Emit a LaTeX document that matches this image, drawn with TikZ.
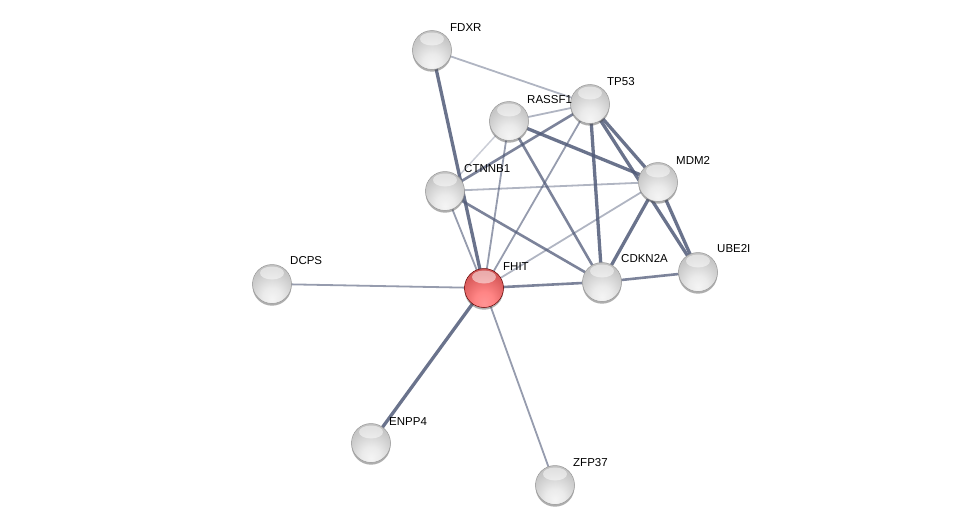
\documentclass[tikz,border=0pt]{standalone}
\usepackage{fontspec}
\setmainfont{Liberation Sans}
\usetikzlibrary{shadows}
\pgfdeclareradialshading{greyball}{\pgfpoint{0bp}{-20bp}}{color(0bp)=(white!96!black); color(12bp)=(black!8); color(30bp)=(black!22); color(44bp)=(black!28); color(54bp)=(black!34); color(62bp)=(black!44); color(70bp)=(black!50)}
\pgfdeclareradialshading{redball}{\pgfpoint{0bp}{-20bp}}{color(0bp)=(red!42!white); color(12bp)=(red!48!white); color(30bp)=(red!58!white!85!black); color(44bp)=(red!58!white!75!black); color(54bp)=(red!60!white!65!black); color(62bp)=(red!60!black); color(70bp)=(red!55!black)}
\definecolor{edgec}{RGB}{80,90,120}
\tikzset{
  ball/.style={circle, minimum size=39pt, inner sep=0pt, shading=greyball, draw=black!40, line width=0.5pt,
    drop shadow={shadow xshift=0pt, shadow yshift=-2.2pt, opacity=0.45, fill=black!70},
    path picture={\shade[top color=white, bottom color=white, middle color=white, opacity=0.5] ([yshift=11pt]path picture bounding box.center) ellipse (12pt and 6.5pt);}},
  redb/.style={ball, shading=redball, draw=red!40!black},
  lab/.style={anchor=west, font=\fontsize{11.5}{13}\selectfont, text=black, inner sep=1pt},
  e1/.style={draw=edgec, line width=1.8pt, opacity=0.45},
  e1b/.style={draw=edgec, line width=1.8pt, opacity=0.6},
  e0/.style={draw=edgec, line width=1.5pt, opacity=0.3},
  e2/.style={draw=edgec, line width=2.6pt, opacity=0.75},
  e3/.style={draw=edgec, line width=3.3pt, opacity=0.85},
}
\begin{document}
\begin{tikzpicture}[x=1pt,y=-1pt]
\useasboundingbox (0,0) rectangle (975,530);
% node coordinates
\coordinate (pFDXR) at (432,50);
\coordinate (pTP53) at (590,104);
\coordinate (pRASSF1) at (509,121);
\coordinate (pMDM2) at (658,182);
\coordinate (pCTNNB1) at (445,191);
\coordinate (pDCPS) at (272,284);
\coordinate (pFHIT) at (484,288);
\coordinate (pCDKN2A) at (602,282);
\coordinate (pUBE2I) at (698,272);
\coordinate (pENPP4) at (371,443);
\coordinate (pZFP37) at (555,485);
% edges
\path[e1] (pFDXR) -- (pTP53);
\path[e3] (pFDXR) -- (pFHIT);
\path[e1] (pRASSF1) -- (pTP53);
\path[e3] (pRASSF1) -- (pMDM2);
\path[e0] (pRASSF1) -- (pCTNNB1);
\path[e1b] (pRASSF1) -- (pFHIT);
\path[e2] (pRASSF1) -- (pCDKN2A);
\path[e2] (pTP53) -- (pCTNNB1);
\path[e1b] (pTP53) -- (pFHIT);
\path[e3] (pTP53) -- (pCDKN2A);
\path[e3] (pTP53) -- (pMDM2);
\path[e3] (pTP53) -- (pUBE2I);
\path[e1] (pCTNNB1) -- (pMDM2);
\path[e1b] (pCTNNB1) -- (pFHIT);
\path[e2] (pCTNNB1) -- (pCDKN2A);
\path[e1] (pMDM2) -- (pFHIT);
\path[e3] (pMDM2) -- (pCDKN2A);
\path[e3] (pMDM2) -- (pUBE2I);
\path[e2] (pCDKN2A) -- (pUBE2I);
\path[e2] (pFHIT) -- (pCDKN2A);
\path[e1b] (pFHIT) -- (pDCPS);
\path[e3] (pFHIT) -- (pENPP4);
\path[e1b] (pFHIT) -- (pZFP37);
% nodes
\node[ball] (FDXR) at (pFDXR) {};
\node[ball] (TP53) at (pTP53) {};
\node[ball] (RASSF1) at (pRASSF1) {};
\node[ball] (MDM2) at (pMDM2) {};
\node[ball] (CTNNB1) at (pCTNNB1) {};
\node[ball] (DCPS) at (pDCPS) {};
\node[redb] (FHIT) at (pFHIT) {};
\node[ball] (CDKN2A) at (pCDKN2A) {};
\node[ball] (UBE2I) at (pUBE2I) {};
\node[ball] (ENPP4) at (pENPP4) {};
\node[ball] (ZFP37) at (pZFP37) {};
% labels
\node[lab] (lFDXR) at ([shift={(17,-22)}]pFDXR) {FDXR};
\node[lab] (lTP53) at ([shift={(16,-22)}]pTP53) {TP53};
\node[lab] (lRASSF1) at ([shift={(17,-21)}]pRASSF1) {RASSF1};
\node[lab] (lMDM2) at ([shift={(17,-22)}]pMDM2) {MDM2};
\node[lab] (lCTNNB1) at ([shift={(18,-22)}]pCTNNB1) {CTNNB1};
\node[lab] (lDCPS) at ([shift={(17,-23)}]pDCPS) {DCPS};
\node[lab] (lFHIT) at ([shift={(18,-21)}]pFHIT) {FHIT};
\node[lab] (lCDKN2A) at ([shift={(18,-23)}]pCDKN2A) {CDKN2A};
\node[lab] (lUBE2I) at ([shift={(18,-23)}]pUBE2I) {UBE2I};
\node[lab] (lENPP4) at ([shift={(17,-21)}]pENPP4) {ENPP4};
\node[lab] (lZFP37) at ([shift={(17,-22)}]pZFP37) {ZFP37};
\end{tikzpicture}
\end{document}
